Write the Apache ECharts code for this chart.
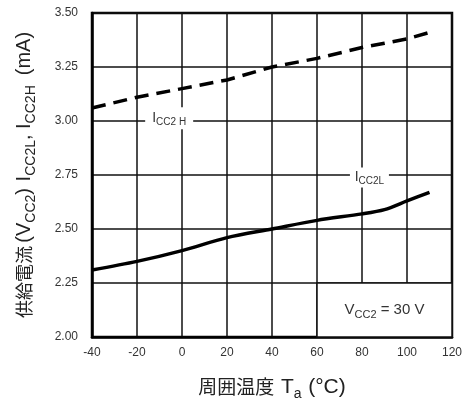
<!DOCTYPE html>
<html>
<head>
<meta charset="utf-8">
<script src="https://cdn.jsdelivr.net/npm/echarts@6/dist/echarts.min.js"></script>
<style>
html,body{margin:0;padding:0;background:#fff;}
#chart{width:466px;height:404px;}
</style>
</head>
<body>
<div id="chart"></div>
<script>
// Data
var temps = [-40, -20, 0, 20, 40, 60, 80, 90, 100, 110];
var icc2H = [3.06, 3.11, 3.15, 3.19, 3.25, 3.29, 3.34, 3.36, 3.38, 3.41];
var icc2L = [2.31, 2.35, 2.40, 2.46, 2.50, 2.54, 2.57, 2.59, 2.63, 2.67];
var xTicks = [-40, -20, 0, 20, 40, 60, 80, 100, 120];
var yTicks = [2.00, 2.25, 2.50, 2.75, 3.00, 3.25, 3.50];
var labelH = { temp: -5.7, value: 3.013 };
var labelL = { temp: 83.3, value: 2.738 };
var condBox = { x0: 60, x1: 120, y0: 2.00, y1: 2.25 };

var LAT = 'Liberation Sans, Arial, sans-serif';
var CJK = 'Noto Sans CJK JP, sans-serif';

function pairs(xs, ys) { return xs.map(function (x, i) { return [x, ys[i]]; }); }

var chart = echarts.init(document.getElementById('chart'), null, { renderer: 'canvas' });

var nameRich = {
  c: { fontFamily: CJK, fontSize: 18, color: '#222', lineHeight: 28 },
  n: { fontFamily: LAT, fontSize: 20, color: '#222', lineHeight: 28 },
  s: { fontFamily: LAT, fontSize: 14, color: '#222', lineHeight: 28, verticalAlign: 'bottom' }
};

var option = {
  animation: false,
  backgroundColor: '#fff',
  grid: { left: 92, right: 14, top: 13, bottom: 67, outerBoundsMode: 'none', containLabel: false, show: true, borderColor: '#000', borderWidth: 2.5, backgroundColor: 'transparent' },
  xAxis: {
    type: 'value', min: xTicks[0], max: xTicks[xTicks.length - 1], interval: 20,
    axisLine: { show: true, onZero: false, lineStyle: { color: '#000', width: 2.5 } },
    axisTick: { show: false },
    splitLine: { show: true, lineStyle: { color: '#111', width: 1.5 } },
    axisLabel: { color: '#333', fontSize: 12, fontFamily: LAT, margin: 10 },
    name: '{c|周囲温度}  {n|T}{s|a}  {n|(°C)}',
    nameLocation: 'middle', nameGap: 36,
    nameTextStyle: {
      rich: {
        c: { fontFamily: CJK, fontSize: 19, color: '#222', lineHeight: 28 },
        n: { fontFamily: LAT, fontSize: 21, color: '#222', lineHeight: 28 },
        s: { fontFamily: LAT, fontSize: 14, color: '#222', lineHeight: 28, verticalAlign: 'bottom' }
      }
    }
  },
  yAxis: {
    type: 'value', min: yTicks[0], max: yTicks[yTicks.length - 1], interval: 0.25,
    axisLine: { show: true, onZero: false, lineStyle: { color: '#000', width: 2.5 } },
    axisTick: { show: false },
    splitLine: { show: true, lineStyle: { color: '#111', width: 1.5 } },
    axisLabel: { color: '#333', fontSize: 12, fontFamily: LAT, margin: 14, formatter: function (v) { return v.toFixed(2); } },
    name: '{c|供給電流} {n|(V}{s|CC2}{n|)}  {n|I}{s|CC2L}{n|, I}{s|CC2H}   {n|(mA)}',
    nameLocation: 'middle', nameRotate: 90, nameGap: 54,
    nameTextStyle: { rich: nameRich }
  },
  series: [
    {
      name: 'ICC2H', type: 'line', data: pairs(temps, icc2H),
      showSymbol: false, symbol: 'none', smooth: false,
      lineStyle: { color: '#000', width: 3.5, type: [14, 8] },
      markPoint: {
        symbol: 'rect', symbolSize: [48, 22],
        itemStyle: { color: '#fff' },
        label: {
          show: true, position: 'inside',
          formatter: '{n|I}{s|CC2 H}',
          rich: {
            n: { fontFamily: LAT, fontSize: 14, color: '#333', lineHeight: 18 },
            s: { fontFamily: LAT, fontSize: 10, color: '#333', lineHeight: 18, verticalAlign: 'bottom' }
          }
        },
        data: [{ coord: [labelH.temp, labelH.value] }]
      }
    },
    {
      name: 'ICC2L', type: 'line', data: pairs(temps, icc2L),
      showSymbol: false, symbol: 'none', smooth: 0.3,
      lineStyle: { color: '#000', width: 3.5 },
      markPoint: {
        symbol: 'rect', symbolSize: [39, 20],
        itemStyle: { color: '#fff' },
        label: {
          show: true, position: 'inside',
          formatter: '{n|I}{s|CC2L}',
          rich: {
            n: { fontFamily: LAT, fontSize: 14, color: '#333', lineHeight: 18 },
            s: { fontFamily: LAT, fontSize: 10, color: '#333', lineHeight: 18, verticalAlign: 'bottom' }
          }
        },
        data: [{ coord: [labelL.temp, labelL.value] }]
      },
      markArea: {
        silent: true,
        itemStyle: { color: '#fff', opacity: 1, borderColor: '#111', borderWidth: 1.5 },
        label: {
          show: true, position: 'inside',
          formatter: '{n|V}{s|CC2}{n| = 30 V}',
          rich: {
            n: { fontFamily: LAT, fontSize: 15, color: '#333', lineHeight: 20 },
            s: { fontFamily: LAT, fontSize: 11, color: '#333', lineHeight: 20, verticalAlign: 'bottom' }
          }
        },
        data: [[{ coord: [condBox.x0, condBox.y0] }, { coord: [condBox.x1, condBox.y1] }]]
      }
    }
  ]
};
chart.setOption(option);
</script>
</body>
</html>
